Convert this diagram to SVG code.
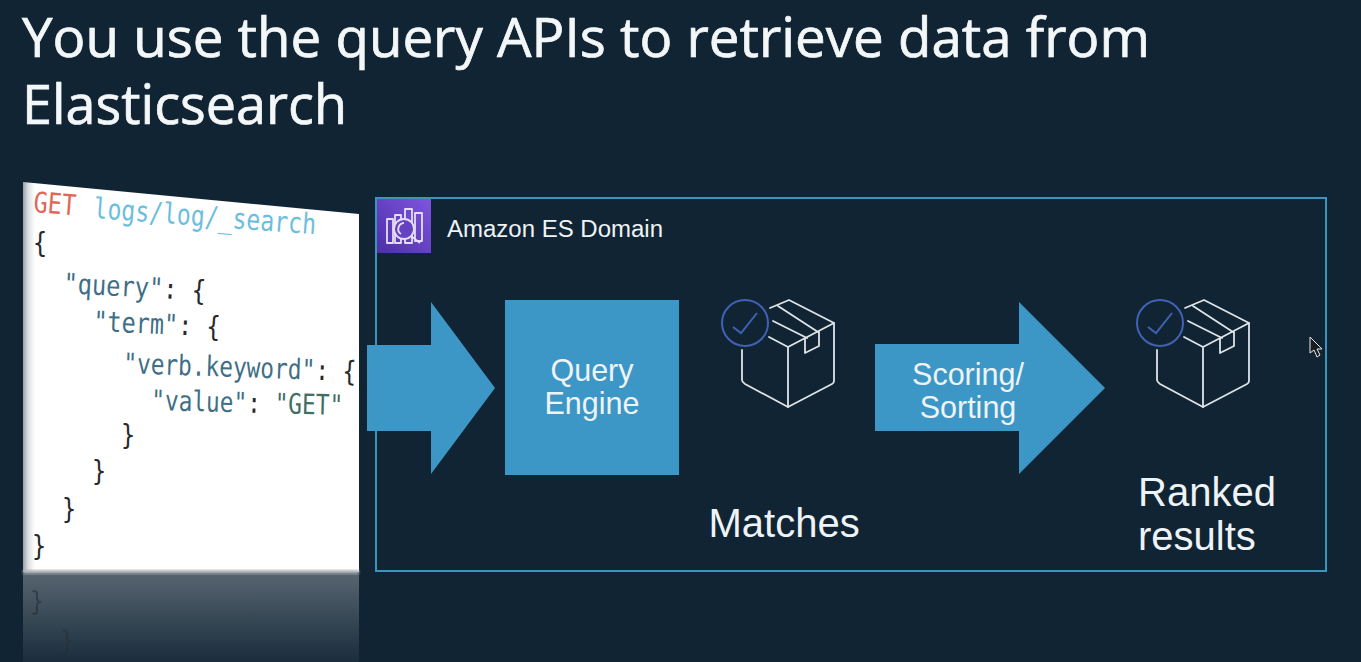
<svg xmlns="http://www.w3.org/2000/svg" xmlns:xlink="http://www.w3.org/1999/xlink" width="1361" height="662" viewBox="0 0 1361 662">
<style>
.title{font-family:"Open Sans","Noto Sans",sans-serif;font-size:54px;fill:#f4f7f8;stroke:#f4f7f8;stroke-width:.7}
.lab{font-family:"Liberation Sans",Arial,sans-serif;fill:#eef3f6}
.m{font-size:40px}.s{font-size:30.5px;text-anchor:middle}
.code{font-family:"DejaVu Sans Mono",monospace;font-size:23.5px}
.k{fill:#3f6f86}.b{fill:#26292d}.g{fill:#3f6f66}.r{fill:#e0675a}.c{fill:#6cbedd}
.fill{fill:#3c97c6}
.ln{fill:none;stroke:#dfe4e7;stroke-width:1.8;stroke-linejoin:round;stroke-linecap:round}
.ic{fill:none;stroke:#e6ddf8;stroke-width:1.8;stroke-linejoin:round}
</style>
<defs>
<linearGradient id="edge" x1="0" x2="1" y1="0" y2="0"><stop offset="0" stop-color="#9aa1a5"/><stop offset="0.015" stop-color="#d9dcde"/><stop offset="0.035" stop-color="#fff"/></linearGradient>
<linearGradient id="refl" x1="0" x2="0" y1="0" y2="1"><stop offset="0" stop-color="#56646f"/><stop offset="1" stop-color="#1a2d3c"/></linearGradient>
<linearGradient id="pur" x1="0" x2="1" y1="1" y2="0"><stop offset="0" stop-color="#4d2fa6"/><stop offset="1" stop-color="#7f55de"/></linearGradient>
<filter id="soft" x="-5%" y="-5%" width="110%" height="110%"><feGaussianBlur stdDeviation="0.9"/></filter>
<g id="box">
<path class="ln" d="M770 308L789 300L834 323V381Q834 383 832 384L788 407L745 384Q742 382 742 380V350"/>
<path class="ln" d="M769 337L788 347L834 323M788 347V407M778 306L818 332M773 321L807 338M805 338V353L819 346V332"/>
<circle cx="745" cy="323" r="23" fill="#112434" stroke="#3f62b5" stroke-width="2"/>
<path d="M733 327L741 333L757 313" fill="none" stroke="#3f62b5" stroke-width="2"/>
</g>
</defs>
<rect id="background" width="1361" height="662" fill="#112434"/>
<g id="title">
<text class="title" x="22" y="57" textLength="1128" lengthAdjust="spacingAndGlyphs">You use the query APIs to retrieve data from</text>
<text class="title" x="22" y="124" textLength="325" lengthAdjust="spacingAndGlyphs">Elasticsearch</text>
</g>
<g id="code-panel">
<rect x="23" y="574" width="336" height="88" fill="url(#refl)"/>
<text class="code" fill="#26292d" x="30" y="613" opacity=".55" transform="translate(0 -95) scale(1 1.15)">}</text>
<text class="code" fill="#26292d" x="60" y="647" opacity=".4" transform="translate(0 -95) scale(1 1.15)">}</text>
<polygon points="23,182 359,214 359,572 23,572" fill="url(#edge)"/>
<rect x="23" y="570" width="336" height="4" fill="#aeb4b8" filter="url(#soft)"/>
<g class="code">
<text class="r" transform="translate(33 212) rotate(4.5) scale(1 1.22)">GET</text>
<text class="c" transform="translate(93 218) rotate(4.2) scale(.985 1.22)">logs/log/_search</text>
<text class="b" transform="translate(33 253) scale(1 1.2)">{</text>
<text class="k" transform="translate(63 293) rotate(3) scale(1.01 1.2)">"query"<tspan class="b">: {</tspan></text>
<text class="k" transform="translate(93 331) rotate(2.5) scale(1 1.2)">"term"<tspan class="b">: {</tspan></text>
<text class="k" transform="translate(123 373) rotate(2) scale(.97 1.2)">"verb.keyword"<tspan class="b">: {</tspan></text>
<text class="k" transform="translate(151 410) rotate(1.5) scale(.97 1.2)">"value"<tspan class="b">: </tspan><tspan class="g">"GET"</tspan></text>
<text class="b" transform="translate(121 445) scale(1 1.2)">}</text>
<text class="b" transform="translate(92 481) scale(1 1.2)">}</text>
<text class="b" transform="translate(62 519) scale(1 1.2)">}</text>
<text class="b" transform="translate(32 556) scale(1 1.2)">}</text>
</g>
</g>
<g id="es-domain">
<rect x="376" y="198" width="950" height="373" fill="none" stroke="#3d93bd" stroke-width="2"/>
<rect x="377" y="199" width="54" height="54" fill="url(#pur)"/>
<path class="ic" d="M387 219H393V243H387ZM395 215H401V243H395ZM405 209H412V243H405ZM415 213H422V241H415Z"/>
<circle cx="404" cy="229" r="10" fill="#6543c0" stroke="#e6ddf8" stroke-width="1.8"/>
<path class="ic" d="M404 223A6 6 0 0 0 401 234M411 236L420 243"/>
<text class="lab" x="447" y="237" font-size="23" textLength="216" lengthAdjust="spacingAndGlyphs">Amazon ES Domain</text>
</g>
<g id="query-engine">
<rect class="fill" x="505" y="300" width="174" height="175"/>
<text class="lab s" x="592" y="381">Query</text>
<text class="lab s" x="592" y="414">Engine</text>
</g>
<g id="matches">
<use xlink:href="#box" href="#box"/>
<text class="lab m" x="708.500" y="537">Matches</text>
</g>
<g id="ranked-results">
<use xlink:href="#box" href="#box" x="415"/>
<text class="lab m" x="1138" y="506">Ranked</text>
<text class="lab m" x="1138" y="550">results</text>
</g>
<g id="connectors">
<polygon class="fill" points="367,345 431,345 431,302 495,388 431,474 431,431 367,431"/>
<polygon class="fill" points="875,344 1019,344 1019,302 1105,388 1019,474 1019,431 875,431"/>
<text class="lab s" x="968" y="385">Scoring/</text>
<text class="lab s" x="968" y="418">Sorting</text>
</g>
<g id="cursor">
<path d="M1310 337V353L1314 350L1317 357L1320 355L1317 349H1322Z" fill="#1a1d20" stroke="#e8e8e8" stroke-width="1"/>
</g>
</svg>
